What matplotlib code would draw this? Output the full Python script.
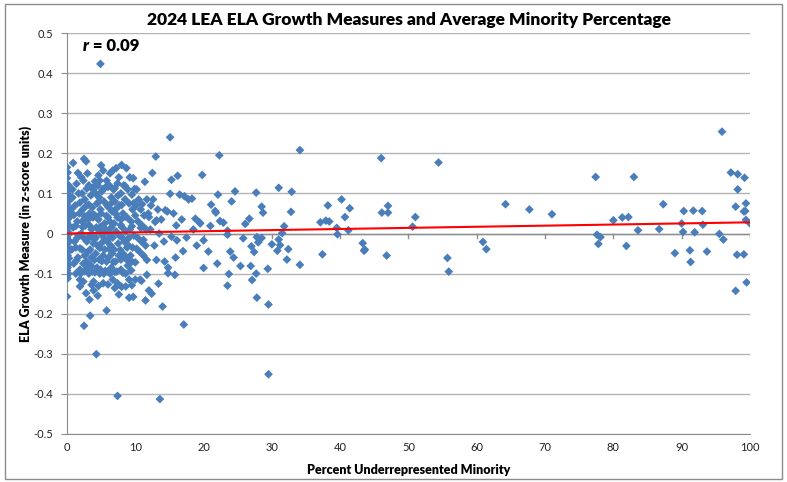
import numpy as np
import matplotlib.pyplot as plt
from matplotlib.patches import Rectangle

plt.rcParams['font.family'] = ['Lato', 'DejaVu Sans']

# percent underrepresented minority for each LEA
pct = [
    # x ~ 0 column
    0.0, 0.1, 0.0, 0.2, 0.0, 0.1, 0.3, 0.0, 0.2, 0.0, 0.1, 0.3, 0.0, 0.2, 0.1, 0.0, 0.3, 0.0,
    0.1, 0.2, 0.0, 0.3, 0.1, 0.0, 0.2, 0.0, 0.1, 0.3, 0.0, 0.2, 0.1, 0.0, 0.2, 0.0, 0.1, 0.0,
    # 0.5 - 2
    0.9, 1.6, 1.4, 0.8, 1.2, 0.6, 1.5, 0.9, 1.8, 1.1, 0.7, 1.6, 1.0, 1.9, 1.3, 1.9, 1.9, 0.8,
    1.7, 1.3, 1.7, 0.6,
    # 2 - 4
    2.1, 2.4, 2.5, 2.8, 3.0, 3.2, 2.2, 2.6, 3.5, 3.8, 2.3, 2.9, 3.3, 3.7, 2.2, 2.7, 3.1, 3.6,
    2.4, 2.9, 3.4, 3.9, 2.2, 2.6, 3.1, 3.6, 2.4, 3.0, 3.5, 2.4, 2.8, 3.3, 3.9, 3.9, 3.4, 2.5,
    2.1, 3.8, 2.0, 3.2, 3.7, 4.3,
    # 4 - 6
    4.1, 4.5, 4.8, 5.3, 5.8, 4.2, 4.7, 5.1, 5.6, 4.4, 4.9, 5.4, 5.9, 4.1, 4.6, 5.0, 5.5, 6.0,
    4.3, 4.8, 5.2, 5.7, 4.0, 4.5, 5.0, 5.5, 5.9, 4.2, 4.7, 5.3, 5.8, 4.4, 4.9, 5.4, 5.9, 4.8,
    5.3, 4.5, 5.8, 4.9, 5.0, 4.6,
    # 6 - 8
    6.3, 6.7, 7.2, 7.6, 6.2, 6.8, 7.4, 7.9, 6.5, 7.0, 7.5, 6.1, 6.6, 7.1, 7.7, 6.3, 6.9, 7.4,
    7.9, 6.2, 6.7, 7.2, 7.7, 6.4, 6.9, 7.5, 6.1, 6.6, 7.1, 7.6, 6.3, 6.7, 7.0, 7.4, 7.6, 7.9,
    7.4, 6.5, 7.3,
    # 8 - 10
    8.0, 8.7, 9.2, 9.7, 9.5, 8.3, 8.9, 8.5, 9.1, 9.6, 8.2, 8.8, 9.4, 8.1, 8.6, 9.2, 9.8, 8.4,
    9.0, 9.6, 8.2, 8.7, 9.3, 9.5, 8.6, 9.1, 9.1, 8.6, 9.7, 8.9, 10.0,
    # 10 - 12
    10.5, 11.7, 11.4, 10.2, 10.8, 11.3, 10.4, 11.0, 11.6, 10.3, 10.9, 11.5, 10.6, 11.2, 11.7,
    10.7, 10.9, 11.7, 12.0, 11.5, 10.1, 11.9,
    # 12 - 15
    12.5, 13.0, 12.6, 12.9, 13.1, 13.8, 13.1, 14.3, 12.4, 13.4, 14.0, 14.8, 14.8, 13.6, 14.4,
    14.7, 12.2, 13.5, 12.8, 14.2, 13.3, 12.3, 15.1, 15.1, 15.3, 15.3,
    # 15 - 20
    16.2, 16.5, 17.2, 17.8, 18.3, 18.8, 19.5, 16.1, 17.0, 15.8, 17.1, 19.8, 16.0, 15.6, 16.8,
    17.5, 18.5, 15.9, 19.0, 19.4, 20.0, 20.0,
    # 20 - 46
    22.3, 34.1, 20.7, 21.0, 21.1, 21.7, 21.8, 22.1, 22.4, 22.9, 22.0, 23.5, 23.5, 23.7, 23.5,
    23.9, 24.1, 24.4, 24.6, 25.4, 25.8, 26.1, 26.7, 26.9, 27.0, 27.1, 27.4, 27.7, 27.7, 27.8,
    27.8, 28.0, 28.5, 28.5, 28.7, 29.4, 29.5, 30.0, 30.8, 31.0, 31.0, 31.2, 31.5, 31.8, 32.2,
    32.4, 32.8, 32.9, 34.1, 37.4, 37.1, 37.9, 38.4, 38.2, 39.5, 39.6, 40.2, 40.7, 41.2, 41.4,
    43.3, 43.5, 43.6, 29.5,
    # 46 - 100
    46.0, 46.8, 46.1, 47.0, 47.0, 50.6, 51.0, 54.4, 55.7, 55.9, 60.9, 61.4, 64.2, 67.7, 71.0,
    77.4, 77.6, 78.1, 77.8, 80.0, 81.3, 82.2, 81.9, 83.0, 83.6, 86.7, 87.3, 89.0, 90.0, 90.2,
    90.3, 91.2, 91.3, 91.7, 91.9, 93.0, 93.1, 93.7, 95.5, 96.1, 95.9, 97.2, 98.2, 99.2, 98.2,
    97.9, 99.4, 99.3, 99.1, 99.4, 100.0, 98.1, 99.1, 97.9, 99.5,
    # dense core, 1 - 12
    2.9, 4.0, 5.2, 6.0, 7.0, 8.5, 9.9,
    1.9, 3.2, 4.6, 6.4, 8.0, 9.8, 11.0,
    1.0, 2.6, 3.9, 5.8, 7.2, 8.5, 10.0, 12.0,
    1.3, 2.3, 3.3, 4.9, 6.5, 7.9, 9.5, 10.8,
    1.5, 3.0, 4.2, 5.5, 6.0, 8.0, 9.0, 11.2,
    1.9, 3.4, 4.8, 6.2, 7.8, 8.8, 10.2,
    1.4, 2.9, 4.0, 5.1, 6.8, 7.9, 8.9, 10.0,
    2.6, 4.1, 5.6, 7.0, 8.2, 9.4,
    3.6, 4.6, 6.0, 8.0, 9.5,
]

# growth measure (z-score units), same order as pct
growth = [
    0.165, 0.152, 0.138, 0.121, 0.118, 0.105, 0.095, 0.088, 0.080, 0.072, 0.065, 0.058, 0.050,
    0.042, 0.035, 0.028, 0.020, 0.012, 0.005, -0.003, -0.010, -0.018, -0.025, -0.032, -0.040,
    -0.048, -0.055, -0.062, -0.070, -0.078, -0.085, -0.092, -0.100, -0.106, -0.112, -0.157,
    0.176, 0.151, 0.124, 0.090, 0.070, 0.045, 0.030, 0.015, 0.050, -0.020, -0.040, -0.060,
    -0.075, -0.090, -0.100, -0.115, -0.132, 0.110, 0.100, -0.035, -0.005, 0.060,
    0.140, 0.132, 0.186, 0.180, 0.150, 0.120, 0.100, 0.085, 0.095, 0.110, 0.060, 0.070, 0.050,
    0.065, 0.030, 0.020, 0.035, 0.010, -0.010, -0.020, -0.005, -0.025, -0.040, -0.055, -0.045,
    -0.060, -0.075, -0.085, -0.080, -0.120, -0.149, -0.165, -0.142, -0.120, -0.205, -0.230,
    0.000, 0.040, -0.100, -0.100, -0.095, -0.301,
    0.130, 0.120, 0.132, 0.157, 0.132, 0.100, 0.090, 0.105, 0.115, 0.075, 0.060, 0.080, 0.070,
    0.045, 0.035, 0.050, 0.025, 0.040, 0.015, 0.005, -0.005, 0.010, -0.015, -0.030, -0.025,
    -0.040, -0.020, -0.050, -0.065, -0.055, -0.070, -0.085, -0.090, -0.100, -0.095, -0.100,
    -0.124, -0.155, -0.192, 0.423, 0.170, 0.145,
    0.150, 0.157, 0.163, 0.140, 0.120, 0.110, 0.125, 0.100, 0.090, 0.080, 0.095, 0.065, 0.055,
    0.060, 0.070, 0.030, 0.025, 0.040, 0.035, 0.000, -0.010, 0.005, -0.005, -0.030, -0.040,
    -0.025, -0.060, -0.050, -0.070, -0.055, -0.100, -0.115, -0.136, -0.124, -0.152, -0.090,
    -0.405, -0.085, -0.095,
    0.171, 0.163, 0.140, 0.138, 0.097, 0.120, 0.110, 0.085, 0.075, 0.060, 0.050, 0.040, 0.030,
    0.015, 0.005, 0.010, -0.005, -0.020, -0.030, -0.035, -0.050, -0.060, -0.055, -0.070,
    -0.132, -0.115, -0.160, -0.100, -0.158, -0.080, -0.115,
    0.085, 0.085, 0.129, 0.110, 0.060, 0.045, 0.030, 0.020, 0.010, -0.010, -0.020, -0.030,
    -0.045, -0.055, -0.066, -0.115, -0.118, -0.103, -0.142, -0.167, 0.070, 0.050,
    0.151, 0.192, 0.085, 0.029, 0.033, 0.035, -0.066, -0.070, -0.150, -0.125, -0.182, -0.099,
    -0.085, -0.413, 0.058, 0.055, 0.010, 0.000, -0.030, -0.020, 0.060, 0.070, 0.240, 0.099,
    0.134, -0.008,
    0.144, 0.097, 0.093, 0.085, 0.087, 0.037, 0.025, -0.017, -0.044, -0.103, -0.227, 0.146,
    0.020, 0.050, 0.035, -0.010, 0.010, -0.060, -0.030, 0.028, -0.017, -0.086,
    0.195, 0.208, -0.045, 0.019, 0.072, 0.056, 0.052, 0.097, 0.031, 0.027, -0.075, 0.007,
    -0.003, -0.101, -0.130, -0.045, 0.080, -0.060, 0.105, -0.081, -0.012, 0.024, 0.037, -0.081,
    -0.032, -0.116, -0.046, 0.102, -0.100, -0.160, -0.009, -0.022, -0.011, 0.067, 0.052,
    -0.088, -0.177, -0.027, -0.043, 0.114, -0.015, -0.029, 0.001, 0.018, -0.065, -0.039, 0.054,
    0.104, -0.078, -0.052, 0.028, 0.032, 0.030, 0.070, 0.014, -0.002, 0.085, 0.041, 0.008,
    0.063, -0.024, -0.043, -0.040, -0.351,
    0.188, -0.055, 0.052, 0.052, 0.069, 0.017, 0.041, 0.177, -0.061, -0.095, -0.021, -0.039,
    0.073, 0.060, 0.048, 0.141, -0.003, -0.009, -0.026, 0.033, 0.040, 0.041, -0.031, 0.141,
    0.008, 0.011, 0.073, -0.049, 0.025, 0.004, 0.056, -0.042, -0.071, 0.057, 0.003, 0.056,
    0.022, -0.045, -0.001, -0.015, 0.254, 0.152, 0.148, 0.139, 0.110, 0.067, 0.075, 0.056,
    0.055, 0.034, 0.025, -0.053, -0.052, -0.143, -0.122,
    0.112, 0.118, 0.110, 0.116, 0.113, 0.119, 0.111,
    0.077, 0.072, 0.078, 0.074, 0.071, 0.076, 0.073,
    0.046, 0.043, 0.047, 0.044, 0.048, 0.042, 0.045, 0.041,
    0.019, 0.016, 0.020, 0.017, 0.015, 0.021, 0.018, 0.014,
    -0.011, -0.014, -0.010, -0.013, -0.015, -0.009, -0.012, -0.016,
    -0.037, -0.040, -0.036, -0.039, -0.041, -0.035, -0.038,
    -0.067, -0.070, -0.066, -0.069, -0.071, -0.065, -0.068, -0.072,
    -0.094, -0.097, -0.093, -0.096, -0.098, -0.092,
    -0.128, -0.131, -0.127, -0.133, -0.129,
]

r_label = 0.09

x = np.array(pct)
y = np.array(growth)
slope, intercept = np.polyfit(x, y, 1)

fig = plt.figure(figsize=(7.87, 4.82), dpi=100)
fig.patches.append(Rectangle((0.006, 0.006), 0.988, 0.985, transform=fig.transFigure,
                             fill=False, edgecolor='#8c8c8c', linewidth=1.0))
ax = fig.add_axes([0.0851, 0.0996, 0.8679, 0.8319])

ax.set_xlim(0, 100)
ax.set_ylim(-0.5, 0.5)
ax.set_yticks(np.arange(-0.5, 0.51, 0.1))
ax.set_xticks(np.arange(0, 101, 10))
ax.yaxis.grid(True, color='#b3b3b3', linewidth=1.0)
ax.set_axisbelow(True)

for side in ['top', 'right']:
    ax.spines[side].set_visible(False)
ax.spines['left'].set_color('#8c8c8c')
ax.spines['bottom'].set_color('#8c8c8c')

# x axis line crosses at zero, with its tick marks
ax.axhline(0, color='#8c8c8c', linewidth=1.0, zorder=1)
for t in range(10, 101, 10):
    ax.plot([t, t], [0, -0.012], color='#8c8c8c', linewidth=1.0, zorder=1)
ax.tick_params(axis='x', length=0, labelsize=8, pad=6, labelcolor='#222222')
ax.tick_params(axis='y', length=4, color='#8c8c8c', labelsize=8, pad=6, labelcolor='#222222')
ax.set_yticklabels(['-0.5', '-0.4', '-0.3', '-0.2', '-0.1', '0', '0.1', '0.2', '0.3', '0.4', '0.5'])

ax.scatter(x, y, marker='D', s=20, color='#4a7ebb', edgecolors='none', zorder=3)

xs = np.array([0, 100])
ax.plot(xs, intercept + slope * xs, color='#ff0000', linewidth=1.5, zorder=4)

ax.set_title('2024 LEA ELA Growth Measures and Average Minority Percentage',
             fontsize=12.5, fontweight='heavy', pad=6)
ax.set_xlabel('Percent Underrepresented Minority', fontsize=9, fontweight='heavy', labelpad=8)
ax.set_ylabel('ELA Growth Measure (in z-score units)', fontsize=9, fontweight='heavy', labelpad=1)

t1 = ax.text(2.3, 0.455, 'r', fontsize=12, fontweight='heavy', style='italic')
ax.annotate(f' = {r_label:.2f}', xy=(1, 0), xycoords=t1, va='bottom',
            fontsize=12, fontweight='heavy')

fig.savefig('out.png', dpi=100)
